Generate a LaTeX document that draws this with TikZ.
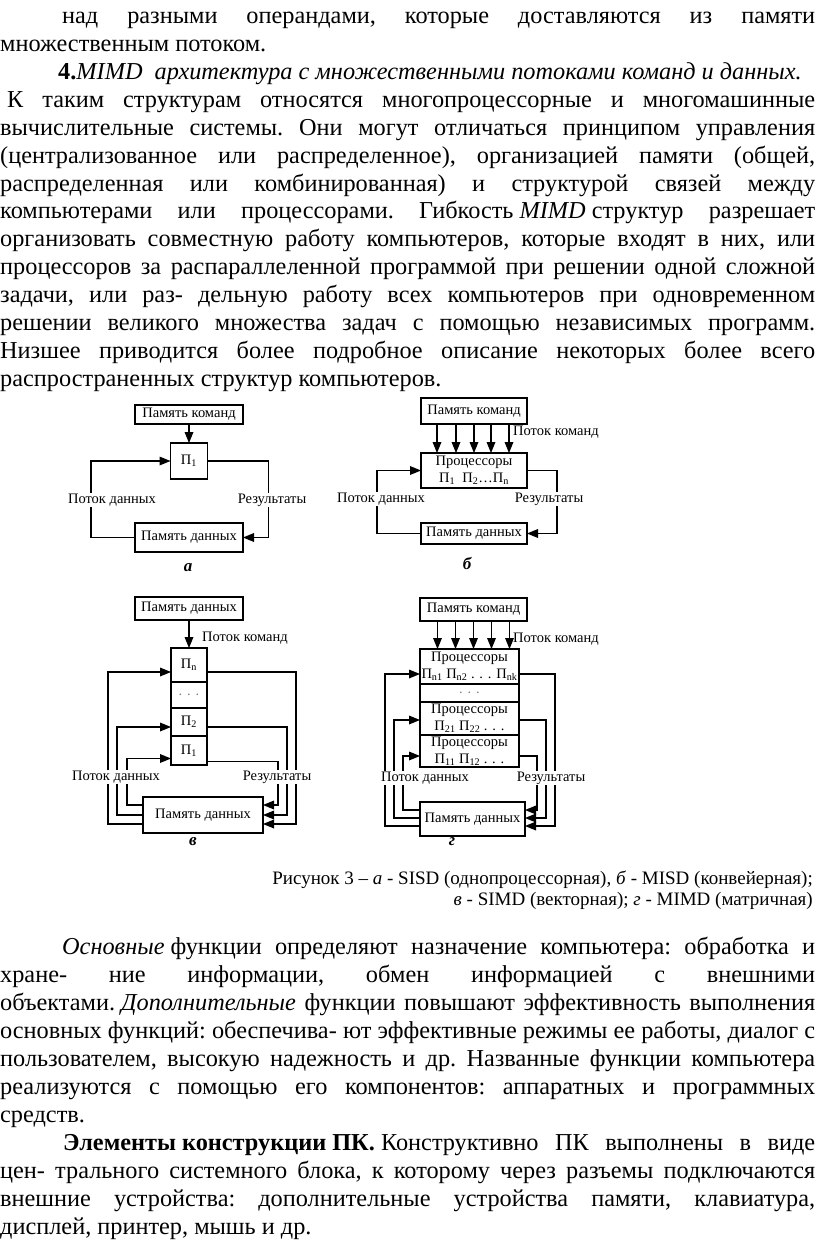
\documentclass[tikz,border=0pt]{standalone}
\usepackage{fontspec}
\setmainfont{Liberation Serif}
\usetikzlibrary{positioning}

\newcommand\dgfont{\fontsize{14.5}{17}\selectfont}
\newcommand\txfont{\fontsize{24.3}{27.9}\selectfont}
\newcommand\jline[2]{\hbox to #1pt{\frenchspacing\spaceskip=.25em plus 1fil minus .08em\relax #2}}
\newcommand\fsp{\hspace{.25em}}
% arrow heads: apex at the given point
\newcommand\hdown[1]{\fill (#1) -- ++(-4.5,11) -- ++(9,0) -- cycle;}
\newcommand\hright[1]{\fill (#1) -- ++(-11,4.5) -- ++(0,-9) -- cycle;}
\newcommand\hleft[1]{\fill (#1) -- ++(11,4.5) -- ++(0,-9) -- cycle;}
\tikzset{
  blk/.style={draw, line width=1.2pt, outer sep=0pt, inner sep=0pt, font=\dgfont, align=center},
  lbl/.style={fill=white, inner sep=1pt, font=\dgfont},
  flowlbl/.style={anchor=west, inner sep=1pt, font=\dgfont},
  link/.style={line width=1.2pt, shorten >=4pt},
  txt/.style={anchor=base west, inner sep=0pt, font=\txfont},
  tag/.style={font=\fontsize{17}{17}\selectfont\bfseries\itshape},
  capline/.style={anchor=base east, inner sep=0pt, font=\fontsize{19}{22}\selectfont}
}

\begin{document}
\begin{tikzpicture}[x=1pt,y=1pt]
  \useasboundingbox (0,0) rectangle (816,-1249);
  % text above the figure
  \node[txt] (l1) at (62,-24) {\jline{753}{над разными операндами, которые доставляются из памяти}};
  \node[txt] (l2) at (0,-52) {множественным потоком.};
  \node[txt] (l3) at (58,-79.7) {\textbf{4.}\textit{MIMD\fsp\ архитектура с множественными потоками команд и данных.}};
  \node[txt] (l4) at (7,-107.5) {\jline{808}{К таким структурам относятся многопроцессорные и многомашинные}};
  \node[txt] (l5) at (0,-135.4) {\jline{815}{вычислительные системы. Они могут отличаться принципом управления}};
  \node[txt] (l6) at (0,-163.2) {\jline{815}{(централизованное или распределенное), организацией памяти (общей,}};
  \node[txt] (l7) at (0,-191.1) {\jline{815}{распределенная или комбинированная) и структурой связей между}};
  \node[txt] (l8) at (0,-219) {\jline{815}{компьютерами или процессорами. Гибкость\fsp\textit{MIMD}\fsp структур разрешает}};
  \node[txt] (l9) at (0,-246.8) {\jline{815}{организовать совместную работу компьютеров, которые входят в них, или}};
  \node[txt] (l10) at (0,-274.6) {\jline{815}{процессоров за распараллеленной программой при решении одной сложной}};
  \node[txt] (l11) at (0,-302.5) {\jline{815}{задачи, или раз- дельную работу всех компьютеров при одновременном}};
  \node[txt] (l12) at (0,-330.3) {\jline{815}{решении великого множества задач с помощью независимых программ.}};
  \node[txt] (l13) at (0,-358.2) {\jline{815}{Низшее приводится более подробное описание некоторых более всего}};
  \node[txt] (l14) at (0,-386) {распространенных структур компьютеров.};

  % a
  \node[blk, minimum width=108pt, minimum height=19pt] (cmdA) at (189,-414.5) {Память команд};
  \node[blk, minimum width=37pt, minimum height=36pt] (pA) at (189,-461) {П\textsubscript{1}};
  \node[blk, minimum width=108pt, minimum height=29pt] (datA) at (189,-537.5) {Память данных};
  \draw[link] (cmdA) -- (pA);
  \draw[link] (datA.west) -- ++(-44,0) |- (pA.west);
  \draw[link] (pA.east) -- ++(61,0) |- (datA.east);
  \hdown{pA.north}
  \hright{pA.west}
  \hleft{datA.east}
  \node[lbl] (inA) at (112,-500) {Поток данных};
  \node[lbl] (outA) at (272,-500) {Результаты};
  \node[tag] (capA) at (188,-568) {а};

  % b
  \node[blk, minimum width=106pt, minimum height=26pt] (cmdB) at (474,-411) {Память команд};
  \node[blk, minimum width=106pt, minimum height=35pt] (procB) at (474,-470.5) {Процессоры\\П\textsubscript{1}\ \ П\textsubscript{2}\dots П\textsubscript{n}};
  \foreach \dx in {-37,-18,0,17,35} {
    \draw[link] ([xshift=\dx pt]cmdB.south) -- ([xshift=\dx pt]procB.north);
    \hdown{[xshift=\dx pt]procB.north}
  }
  \node[flowlbl] (cmdflowB) at (512,-432) {Поток команд};
  \node[blk, minimum width=106pt, minimum height=21pt] (datB) at (474,-533.5) {Память данных};
  \draw[link] (datB.west) -- ++(-44,0) |- (procB.west);
  \draw[link] (procB.east) -- ++(30,0) |- (datB.east);
  \hright{procB.west}
  \hleft{datB.east}
  \node[lbl] (inB) at (381,-499) {Поток данных};
  \node[lbl] (outB) at (549,-499) {Результаты};
  \node[tag] (capB) at (467,-563) {б};

  % c
  \node[blk, minimum width=108pt, minimum height=23pt] (datTopC) at (189,-608.5) {Память данных};
  \node[blk, minimum width=36pt, minimum height=34pt] (pnC) at (189,-665) {П\textsubscript{n}};
  \node[blk, minimum width=36pt, minimum height=26pt, below=0pt of pnC] (dotC) {\color{gray}. . .};
  \node[blk, minimum width=36pt, minimum height=28pt, below=0pt of dotC] (p2C) {П\textsubscript{2}};
  \node[blk, minimum width=36pt, minimum height=29pt, below=0pt of p2C] (p1C) {П\textsubscript{1}};
  \draw[link] (datTopC) -- (pnC);
  \hdown{pnC.north}
  \node[flowlbl] (cmdflowC) at (201,-638) {Поток команд};
  \node[blk, minimum width=120pt, minimum height=36pt] (datC) at (203,-815) {Память данных};
  \draw[link] ([yshift=-9pt]datC.west) -- ++(-35,0) |- ([yshift=-7pt]pnC.west);
  \draw[link] (datC.west) -- ++(-26,0) |- ([yshift=-5pt]p2C.west);
  \draw[link] ([yshift=10pt]datC.west) -- ++(-16,0) |- ([yshift=-8pt]p1C.west);
  \draw[link] ([yshift=-7pt]pnC.east) -- ++(89,0) |- ([yshift=-9pt]datC.east);
  \draw[link] ([yshift=-5pt]p2C.east) -- ++(80,0) |- (datC.east);
  \draw[link] ([yshift=-11pt]p1C.east) -- ++(71,0) |- ([yshift=10pt]datC.east);
  \hright{[yshift=-7pt]pnC.west}
  \hright{[yshift=-5pt]p2C.west}
  \hright{[yshift=-8pt]p1C.west}
  \hleft{[yshift=-9pt]datC.east}
  \hleft{datC.east}
  \hleft{[yshift=10pt]datC.east}
  \node[lbl] (inC) at (116,-777) {Поток данных};
  \node[lbl] (outC) at (277,-777) {Результаты};
  \node[tag] (capC) at (193,-842) {в};

  % d
  \node[blk, minimum width=107pt, minimum height=23pt] (cmdD) at (473.5,-609.5) {Память команд};
  \node[blk, minimum width=99pt, minimum height=35pt] (r1D) at (469.5,-666.5) {Процессоры\\П\textsubscript{n1} П\textsubscript{n2} . . . П\textsubscript{nk}};
  \node[blk, minimum width=99pt, minimum height=18pt, below=0pt of r1D] (rdD) {\color{gray}. . .};
  \node[blk, minimum width=99pt, minimum height=33pt, below=0pt of rdD] (r3D) {Процессоры\\П\textsubscript{21} П\textsubscript{22} . . .};
  \node[blk, minimum width=99pt, minimum height=32pt, below=0pt of r3D] (r4D) {Процессоры\\П\textsubscript{11} П\textsubscript{12} . . .};
  \foreach \dx in {-36,-18,0,18,36} {
    \draw[link] ([xshift=\dx pt]cmdD.south) -- ([xshift=\dx pt]cmdD.south |- r1D.north);
    \hdown{[xshift=\dx pt]cmdD.south |- r1D.north}
  }
  \node[flowlbl] (cmdflowD) at (512,-639) {Поток команд};
  \node[blk, minimum width=105pt, minimum height=34pt] (datD) at (472.5,-819) {Память данных};
  \draw[link] ([yshift=-7pt]datD.west) -- ++(-35,0) |- ([yshift=-7.5pt]r1D.west);
  \draw[link] ([yshift=1pt]datD.west) -- ++(-26,0) |- ([yshift=-1.5pt]r3D.west);
  \draw[link] ([yshift=9pt]datD.west) -- ++(-17,0) |- ([yshift=-5pt]r4D.west);
  \draw[link] ([yshift=-7.5pt]r1D.east) -- ++(36,0) |- ([yshift=-7pt]datD.east);
  \draw[link] ([yshift=-1.5pt]r3D.east) -- ++(27,0) |- ([yshift=1pt]datD.east);
  \draw[link] ([yshift=-5pt]r4D.east) -- ++(18,0) |- ([yshift=9pt]datD.east);
  \hright{[yshift=-7.5pt]r1D.west}
  \hright{[yshift=-1.5pt]r3D.west}
  \hright{[yshift=-5pt]r4D.west}
  \hleft{[yshift=-7pt]datD.east}
  \hleft{[yshift=1pt]datD.east}
  \hleft{[yshift=9pt]datD.east}
  \node[lbl] (inD) at (425,-778) {Поток данных};
  \node[lbl] (outD) at (551,-778) {Результаты};
  \node[tag] (capD) at (452,-842) {г};

  % caption
  \node[capline] (cap1) at (813,-884) {Рисунок 3 – \textit{а} - SISD (однопроцессорная), \textit{б} - MISD (конвейерная);};
  \node[capline] (cap2) at (813,-905) {\textit{в} - SIMD (векторная); \textit{г} - MIMD (матричная)};

  % text below the figure
  \node[txt] (l15) at (62,-954) {\jline{753}{\textit{Основные}\fsp функции определяют назначение компьютера: обработка и}};
  \node[txt] (l16) at (0,-982) {\jline{815}{хране- ние информации, обмен информацией с внешними}};
  \node[txt] (l17) at (0,-1010) {\jline{815}{объектами.\fsp\textit{Дополнительные} функции повышают эффективность выполнения}};
  \node[txt] (l18) at (0,-1038) {\jline{815}{основных функций: обеспечива- ют эффективные режимы ее работы, диалог с}};
  \node[txt] (l19) at (0,-1066) {\jline{815}{пользователем, высокую надежность и др. Названные функции компьютера}};
  \node[txt] (l20) at (0,-1094) {\jline{815}{реализуются с помощью его компонентов: аппаратных и программных}};
  \node[txt] (l21) at (0,-1122) {средств.};
  \node[txt] (l22) at (63,-1150) {\jline{752}{\textbf{Элементы\fsp конструкции\fsp ПК.}\fsp Конструктивно ПК выполнены в виде}};
  \node[txt] (l23) at (0,-1178) {\jline{815}{цен- трального системного блока, к которому через разъемы подключаются}};
  \node[txt] (l24) at (0,-1206) {\jline{815}{внешние устройства: дополнительные устройства памяти, клавиатура,}};
  \node[txt] (l25) at (0,-1234) {дисплей, принтер, мышь и др.};
\end{tikzpicture}
\end{document}
